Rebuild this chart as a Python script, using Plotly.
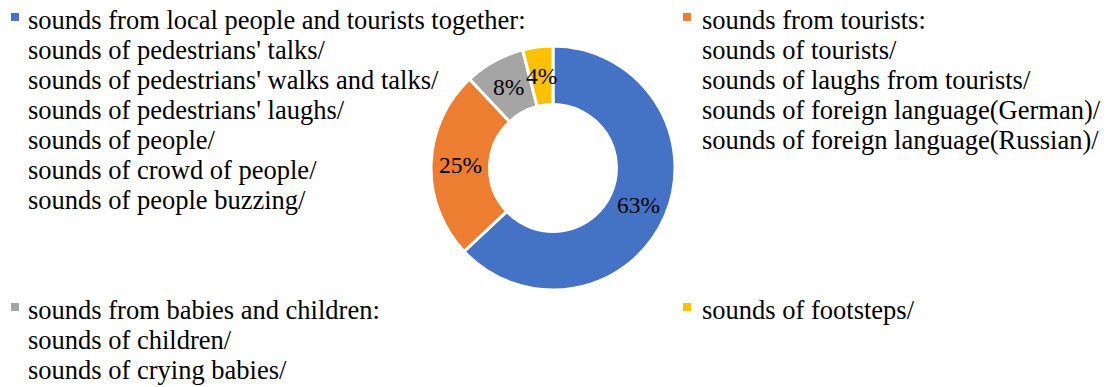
import math
import plotly.graph_objects as go

# Data
categories = [
    "sounds from local people and tourists together",
    "sounds from tourists",
    "sounds from babies and children",
    "sounds of footsteps",
]
shares = [63, 25, 8, 4]
colors = ["#4472C4", "#ED7D31", "#A5A5A5", "#FFC000"]

legend_lines = [
    [
        "sounds from local people and tourists together:",
        "sounds of pedestrians' talks/",
        "sounds of pedestrians' walks and talks/",
        "sounds of pedestrians' laughs/",
        "sounds of people/",
        "sounds of crowd of people/",
        "sounds of people buzzing/",
    ],
    [
        "sounds from tourists:",
        "sounds of tourists/",
        "sounds of laughs from tourists/",
        "sounds of foreign language(German)/",
        "sounds of foreign language(Russian)/",
    ],
    [
        "sounds from babies and children:",
        "sounds of children/",
        "sounds of crying babies/",
    ],
    ["sounds of footsteps/"],
]

# the page body has an 8px margin, so the figure is a bit smaller than the window
OFF = 8
W, H = 1112 - OFF, 387 - OFF
FONT = "Liberation Serif"

# donut geometry in window pixels
cx, cy, r_out = 553, 168, 122
hole = 0.52


def px(x):
    return (x - OFF) / W


def py(y):
    return 1 - (y - OFF) / H


fig = go.Figure()
fig.add_trace(
    go.Pie(
        labels=categories,
        values=shares,
        hole=hole,
        sort=False,
        direction="clockwise",
        rotation=0,
        marker=dict(colors=colors, line=dict(color="white", width=3)),
        textinfo="none",
        hoverinfo="label+percent",
        domain=dict(x=[px(cx - r_out), px(cx + r_out)], y=[py(cy + r_out), py(cy - r_out)]),
        showlegend=False,
    )
)

annotations = []
# percent labels at the middle of each ring segment
total = sum(shares)
r_mid = r_out * (1 + hole) / 2
cum = 0
for v in shares:
    ang = 2 * math.pi * (cum + v / 2) / total
    cum += v
    lx = cx + r_mid * math.sin(ang)
    ly = cy - r_mid * math.cos(ang)
    annotations.append(
        dict(
            x=px(lx), y=py(ly), xref="paper", yref="paper",
            text=f"{round(100 * v / total)}%", showarrow=False,
            xanchor="center", yanchor="middle",
            font=dict(family=FONT, size=23.5, color="black"),
        )
    )

# custom legend: 2x2 grid of blocks (marker x, text x, first row y)
blocks = [(15, 26, 20), (687, 700, 20), (15, 26, 310), (687, 700, 310)]
line_gap = 30
shapes = []
for (mx, tx, ty), lines, col in zip(blocks, legend_lines, colors):
    shapes.append(
        dict(
            type="rect", xref="paper", yref="paper",
            x0=px(mx - 4), x1=px(mx + 4), y0=py(ty + 1), y1=py(ty - 7),
            fillcolor=col, line=dict(width=0),
        )
    )
    for i, t in enumerate(lines):
        annotations.append(
            dict(
                x=px(tx), y=py(ty + i * line_gap), xref="paper", yref="paper",
                text=t, showarrow=False, xanchor="left", yanchor="middle",
                font=dict(family=FONT, size=26.5, color="black"),
            )
        )

fig.update_layout(
    width=W,
    height=H,
    margin=dict(l=0, r=0, t=0, b=0),
    paper_bgcolor="white",
    plot_bgcolor="white",
    annotations=annotations,
    shapes=shapes,
)

fig.write_html("out.html")
